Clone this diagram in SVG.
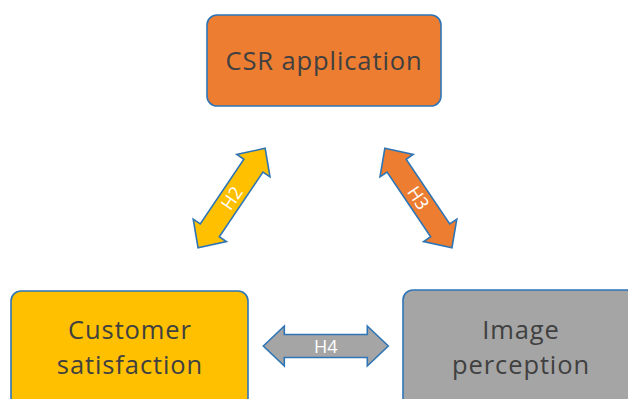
<svg xmlns="http://www.w3.org/2000/svg" width="628" height="399" viewBox="0 0 628 399">
<style>
.box{stroke:#2E75B6;stroke-width:1.6}
.lbl{font-family:"Open Sans","Liberation Sans",sans-serif;font-size:25.5px;letter-spacing:0.9px;fill:#404040;text-anchor:middle}
.arr{stroke:#2E75B6;stroke-width:1.6;stroke-linejoin:miter}
.al{font-family:"Open Sans","Liberation Sans",sans-serif;font-size:18px;fill:#FFFFFF;text-anchor:middle}
</style>
<rect width="628" height="399" fill="#FFFFFF"/>
<g id="csr">
<rect class="box" x="207" y="15" width="234" height="91" rx="10" fill="#ED7D31"/>
<text class="lbl" x="324" y="70">CSR application</text>
</g>
<g id="customer">
<rect class="box" x="11" y="291" width="237" height="125" rx="10" fill="#FFC000"/>
<text class="lbl" x="130" y="338.5">Customer</text>
<text class="lbl" x="130" y="373.5">satisfaction</text>
</g>
<g id="image">
<rect class="box" x="403" y="290" width="240" height="125" rx="10" fill="#A5A5A5"/>
<text class="lbl" x="521" y="338.5">Image</text>
<text class="lbl" x="521" y="373.5">perception</text>
</g>
<g id="connectors">
<g transform="translate(231.6,198) rotate(-56)">
<path class="arr" fill="#FFC000" d="M-60,0 L-39,-20 L-39,-11.5 L39,-11.5 L39,-20 L60,0 L39,20 L39,11.5 L-39,11.5 L-39,20 Z"/>
<text class="al" x="0" y="6.5">H2</text>
</g>
<g transform="translate(418.4,198) rotate(56)">
<path class="arr" fill="#ED7D31" d="M-60,0 L-39,-20 L-39,-11.5 L39,-11.5 L39,-20 L60,0 L39,20 L39,11.5 L-39,11.5 L-39,20 Z"/>
<text class="al" x="0" y="6.5">H3</text>
</g>
<g transform="translate(325.8,346)">
<path class="arr" fill="#A5A5A5" d="M-62.5,0 L-41.5,-20 L-41.5,-11.5 L41.5,-11.5 L41.5,-20 L62.5,0 L41.5,20 L41.5,11.5 L-41.5,11.5 L-41.5,20 Z"/>
<text class="al" x="0" y="6.5">H4</text>
</g>
</g>
</svg>
